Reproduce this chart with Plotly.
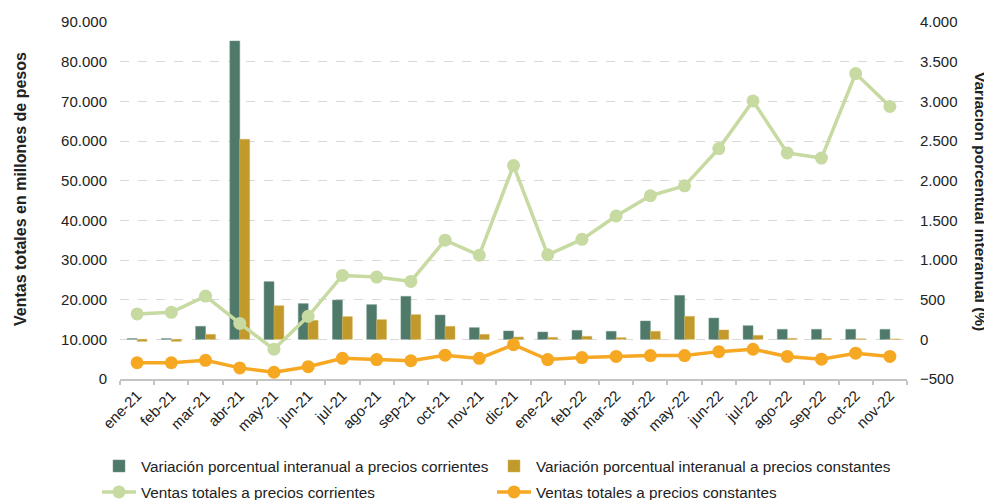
import plotly.graph_objects as go

months = ["ene-21", "feb-21", "mar-21", "abr-21", "may-21", "jun-21", "jul-21", "ago-21",
          "sep-21", "oct-21", "nov-21", "dic-21", "ene-22", "feb-22", "mar-22", "abr-22",
          "may-22", "jun-22", "jul-22", "ago-22", "sep-22", "oct-22", "nov-22"]

# Variación porcentual interanual (%), right axis
var_corrientes = [9, 9, 164, 3760, 727, 450, 495, 437, 542, 306, 147, 105, 92, 113, 101,
                  231, 554, 268, 172, 126, 126, 126, 126]
var_constantes = [-25, -25, 63, 2522, 424, 239, 286, 248, 311, 164, 63, 29, 25, 38, 21,
                  101, 290, 118, 50, 12, 10, 6, 4]

# Ventas totales en millones de pesos, left axis
ventas_corrientes = [16400, 16800, 20900, 14000, 7500, 15800, 26100, 25700, 24600, 35000,
                     31200, 53800, 31300, 35200, 41100, 46200, 48700, 58100, 70100, 57000,
                     55700, 77000, 68700]
ventas_constantes = [4100, 4100, 4700, 2800, 1700, 3100, 5200, 4900, 4600, 6000, 5200, 8650,
                     4900, 5400, 5700, 5900, 5900, 6900, 7500, 5700, 5000, 6500, 5700]

names = ["Variación porcentual interanual a precios corrientes",
         "Variación porcentual interanual a precios constantes",
         "Ventas totales a precios corrientes",
         "Ventas totales a precios constantes"]

FONT = "Arial, Liberation Sans, sans-serif"
OFF = 8  # page body margin
W, H = 992 - OFF, 500 - OFF
L, R, T, B = 120 - OFF, 85, 22 - OFF, 121
PW, PH = W - L - R, H - T - B

fig = go.Figure()
fig.add_bar(x=months, y=var_corrientes, name=names[0], marker_color="#4f7a6a",
            marker_line=dict(color="#6e9486", width=0.5), yaxis="y", legend="legend")
fig.add_bar(x=months, y=var_constantes, name=names[1], marker_color="#c19a2b",
            marker_line=dict(color="#d4b45a", width=0.5), yaxis="y", legend="legend2")
fig.add_scatter(x=months, y=ventas_corrientes, name=names[2], mode="lines+markers",
                line=dict(color="#c6daa1", width=3.5), marker=dict(size=13, color="#c6daa1"),
                yaxis="y2", legend="legend3")
fig.add_scatter(x=months, y=ventas_constantes, name=names[3], mode="lines+markers",
                line=dict(color="#f7a823", width=3.5), marker=dict(size=13, color="#f7a823"),
                yaxis="y2", legend="legend4")


def leg(xscreen, yscreen):
    return dict(orientation="h", xref="container", yref="container",
                x=(xscreen - OFF) / W, y=1 - (yscreen - OFF) / H,
                xanchor="left", yanchor="middle", itemwidth=34,
                font=dict(size=15.3, color="#222222"), bgcolor="rgba(0,0,0,0)")


fig.update_layout(
    width=W, height=H,
    showlegend=True,
    margin=dict(l=L, r=R, t=T, b=B, autoexpand=False),
    barmode="group", bargap=0.42, bargroupgap=0,
    separators=",.",
    plot_bgcolor="white", paper_bgcolor="white",
    font=dict(family=FONT, size=15, color="#222222"),
    xaxis=dict(range=[-0.5, len(months) - 0.5], automargin=False,
               showline=True, linecolor="#c4c4c4", linewidth=2, ticks="outside",
               tickson="boundaries", ticklen=4, tickcolor="#c4c4c4", tickwidth=2,
               tickangle=-45, showgrid=False, tickfont=dict(size=15)),
    yaxis=dict(side="right", range=[-500, 4000], dtick=500, tickformat=",d", automargin=False,
               showgrid=True, gridcolor="#d9d9d9", griddash="dash", gridwidth=1,
               zeroline=False, ticklabelstandoff=12, tickfont=dict(size=15)),
    yaxis2=dict(side="left", overlaying="y", range=[0, 90000], dtick=10000, tickformat=",d",
                automargin=False, showgrid=False, zeroline=False, ticklabelstandoff=12,
                tickfont=dict(size=15)),
    legend=leg(97, 466),
    legend2=leg(492, 466),
    legend3=leg(97, 492),
    legend4=leg(492, 492),
    annotations=[
        dict(text="<b>Ventas totales en millones de pesos</b>", textangle=-90,
             xref="paper", yref="paper", x=(20 - OFF - L) / PW, y=(379 - 189) / PH,
             showarrow=False, font=dict(size=16, color="#222222"),
             xanchor="center", yanchor="middle"),
        dict(text="<b>Variación porcentual interanual (%)</b>", textangle=90,
             xref="paper", yref="paper", x=(981 - OFF - L) / PW, y=(379 - 201) / PH,
             showarrow=False, font=dict(size=15.5, color="#222222"),
             xanchor="center", yanchor="middle"),
    ],
)

fig.write_html("out.html")
